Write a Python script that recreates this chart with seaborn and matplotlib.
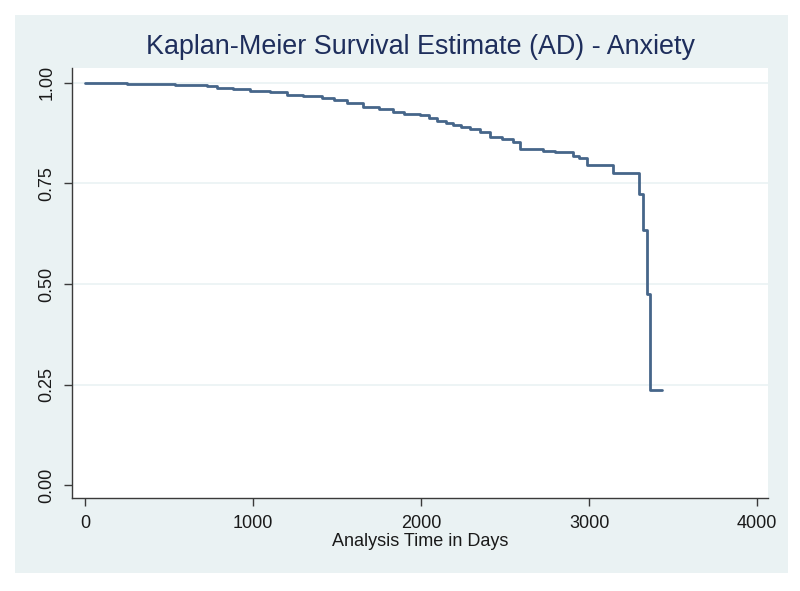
import matplotlib
matplotlib.use("Agg")
import matplotlib.pyplot as plt
import seaborn as sns
import pandas as pd
from matplotlib.patches import Rectangle

# Kaplan-Meier step estimates
time_days = [0, 150, 250, 357, 450, 536, 640, 726, 786, 880, 982, 1101, 1202, 1300,
             1411, 1480, 1560, 1655, 1750, 1833, 1900, 1994, 2050, 2095, 2150, 2190,
             2240, 2292, 2351, 2411, 2480, 2548, 2589, 2726, 2800, 2905, 2940, 2988,
             3143, 3298, 3321, 3345, 3363, 3435]
survival = [1.0, 0.999, 0.998, 0.997, 0.996, 0.995, 0.994, 0.992, 0.988, 0.985, 0.981,
            0.977, 0.970, 0.967, 0.963, 0.957, 0.950, 0.940, 0.934, 0.928, 0.923, 0.919,
            0.912, 0.906, 0.900, 0.895, 0.890, 0.885, 0.877, 0.866, 0.860, 0.853, 0.836,
            0.831, 0.829, 0.818, 0.814, 0.796, 0.776, 0.724, 0.634, 0.475, 0.236, 0.236]
x_ticks = [0, 1000, 2000, 3000, 4000]
y_ticks = [0.0, 0.25, 0.5, 0.75, 1.0]
y_tick_labels = ["0.00", "0.25", "0.50", "0.75", "1.00"]
title = "Kaplan-Meier Survival Estimate (AD) - Anxiety"
x_label = "Analysis Time in Days"

df = pd.DataFrame({"t": time_days, "s": survival})

sns.set_style("white")
plt.rcParams["font.family"] = ["Liberation Sans", "DejaVu Sans"]

fig = plt.figure(figsize=(8, 5.91), dpi=100)
fig.patch.set_facecolor("white")
W, H = 800, 591
panel = Rectangle((15 / W, 1 - 573 / H), (788 - 15) / W, (573 - 15) / H,
                  transform=fig.transFigure, facecolor="#EAF2F3", edgecolor="none", zorder=-10)
fig.patches.append(panel)

ax = fig.add_axes([72 / W, 1 - 498 / H, (768 - 72) / W, (498 - 68) / H])
ax.set_zorder(5)
ax.set_facecolor("white")

for yv in [0.25, 0.5, 0.75, 1.0]:
    ax.axhline(yv, color="#EAF2F3", lw=1.2, zorder=1)

sns.lineplot(data=df, x="t", y="s", ax=ax, drawstyle="steps-post",
             color="#46668A", lw=2, zorder=3, estimator=None)

ax.set_xlim(-77, 4065)
ax.set_ylim(-0.032, 1.037)
ax.set_xticks(x_ticks)
ax.set_xticklabels([str(v) for v in x_ticks])
ax.set_yticks(y_ticks)
ax.set_yticklabels(y_tick_labels, rotation=90, va="center")

for side in ["top", "right"]:
    ax.spines[side].set_visible(False)
for side in ["left", "bottom"]:
    ax.spines[side].set_color("#3a3a3a")
    ax.spines[side].set_linewidth(1.0)

ax.tick_params(axis="both", which="major", direction="out", length=6, width=1,
               color="#3a3a3a", labelsize=13, labelcolor="#1a1a1a", bottom=True, left=True)
ax.tick_params(axis="x", pad=6)
ax.tick_params(axis="y", pad=6)

ax.set_xlabel(x_label, fontsize=13, color="#1a1a1a", labelpad=1)
ax.set_ylabel("")

fig.text(0.525, 1 - 47 / H, title, ha="center", va="center", fontsize=19.4, color="#1E2E5C")

fig.savefig("out.png", dpi=100, facecolor="white")
